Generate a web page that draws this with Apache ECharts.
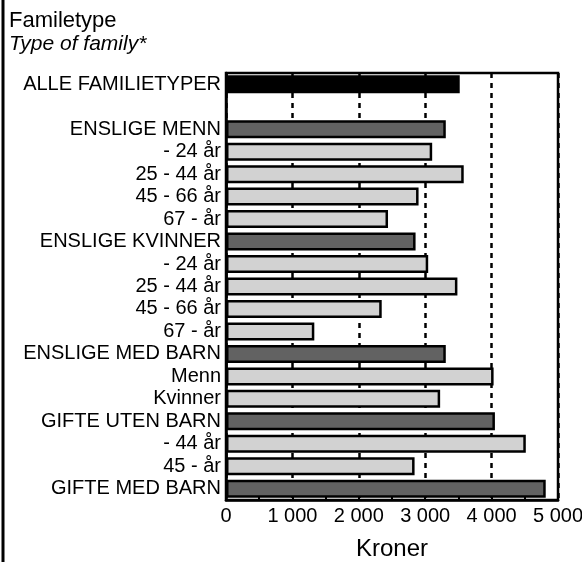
<!DOCTYPE html>
<html>
<head>
<meta charset="utf-8">
<script src="https://cdn.jsdelivr.net/npm/echarts@6/dist/echarts.min.js"></script>
<style>
  html, body { margin: 0; padding: 0; background: #fff; }
  #chart { width: 582px; height: 562px; }
</style>
</head>
<body>
<div id="chart"></div>
<script>
(function () {
  var categories = [
    'ALLE FAMILIETYPER', '',
    'ENSLIGE MENN', '- 24 år', '25 - 44 år', '45 - 66 år', '67 - år',
    'ENSLIGE KVINNER', '- 24 år', '25 - 44 år', '45 - 66 år', '67 - år',
    'ENSLIGE MED BARN', 'Menn', 'Kvinner',
    'GIFTE UTEN BARN', '- 44 år', '45 - år',
    'GIFTE MED BARN'
  ];
  // kroner per category (blank row = null)
  var values = [
    3520, null,
    3310, 3105, 3580, 2900, 2440,
    2855, 3045, 3485, 2345, 1330,
    3310, 4030, 3225,
    4050, 4515, 2840,
    4815
  ];
  // 0 = total, 1 = group, 2 = subgroup
  var levels = [
    0, 0,
    1, 2, 2, 2, 2,
    1, 2, 2, 2, 2,
    1, 2, 2,
    1, 2, 2,
    1
  ];
  var xTicks = [0, 1000, 2000, 3000, 4000, 5000];

  var fills = ['#000000', '#626262', '#d2d2d2'];
  var font = '"Liberation Sans", Arial, Helvetica, sans-serif';

  var myChart = echarts.init(document.getElementById('chart'));

  var barData = values.map(function (v, i) {
    return {
      value: v,
      itemStyle: { color: fills[levels[i]], borderColor: '#000', borderWidth: 2.5 }
    };
  });

  var option = {
    backgroundColor: '#fff',
    animation: false,
    title: {
      text: 'Familetype',
      subtext: 'Type of family*',
      left: 4,
      top: 5,
      itemGap: 2,
      textStyle: { fontFamily: font, fontSize: 22, fontWeight: 'normal', color: '#000' },
      subtextStyle: { fontFamily: font, fontSize: 21, fontStyle: 'italic', color: '#000' }
    },
    graphic: [{
      type: 'line',
      shape: { x1: 3, y1: 0, x2: 3, y2: 562 },
      style: { stroke: '#000', lineWidth: 3 }
    }],
    grid: {
      left: 226, right: 24, top: 73, bottom: 62,
      containLabel: false,
      outerBoundsMode: 'none',
      show: true, borderColor: '#000', borderWidth: 2.5
    },
    xAxis: {
      type: 'value',
      min: xTicks[0],
      max: xTicks[xTicks.length - 1],
      interval: 1000,
      name: 'Kroner',
      nameLocation: 'middle',
      nameGap: 37,
      nameTextStyle: { fontFamily: font, fontSize: 24, color: '#000' },
      axisLine: { show: true, lineStyle: { color: '#000', width: 2.5 } },
      axisTick: { show: true, inside: true, length: 5, lineStyle: { color: '#000', width: 2 } },
      minorTick: { show: true, splitNumber: 2, length: 4, lineStyle: { color: '#000', width: 2 } },
      splitLine: { show: true, lineStyle: { color: '#000', width: 2.5, type: [5, 5] } },
      axisLabel: {
        fontFamily: font, fontSize: 20, color: '#000', margin: 6,
        formatter: function (v) {
          return v >= 1000 ? Math.floor(v / 1000) + ' ' + String(v % 1000).padStart(3, '0') : String(v);
        }
      }
    },
    yAxis: {
      type: 'category',
      inverse: true,
      data: categories,
      axisLine: { show: true, lineStyle: { color: '#000', width: 2.5 } },
      axisTick: { show: false },
      axisLabel: { interval: 0, fontFamily: font, fontSize: 20, color: '#000', margin: 5 }
    },
    series: [{
      type: 'bar',
      data: barData,
      barWidth: 18
    }]
  };

  myChart.setOption(option);
})();
</script>
</body>
</html>
